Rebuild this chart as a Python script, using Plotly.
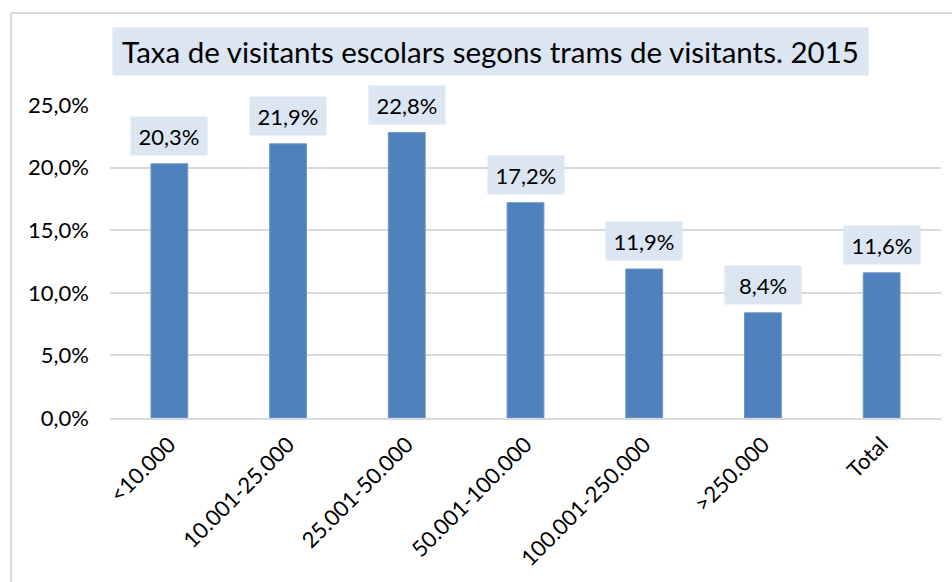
import plotly.graph_objects as go

# Taxa de visitants escolars per trams de visitants (2015)
categories = ["<10.000", "10.001-25.000", "25.001-50.000", "50.001-100.000",
              "100.001-250.000", ">250.000", "Total"]
values = [20.3, 21.9, 22.8, 17.2, 11.9, 8.4, 11.6]
y_ticks = [0, 5, 10, 15, 20, 25]
y_tick_labels = [f"{t:.1f}%".replace(".", ",") for t in y_ticks]

title_text = "Taxa de visitants escolars segons trams de visitants. 2015"

FONT = "Lato"
BAR = "#4F81BD"
LABEL_BG = "#DCE6F2"
GRID = "#D9D9D9"

W, H = 952, 582
L, R, T, B = 110, 11, 105, 164
pw, ph = W - L - R, H - T - B


def px_x(px):
    return (px - L) / pw


def px_y(py):
    return (H - B - py) / ph


fig = go.Figure()
fig.add_trace(go.Bar(
    x=categories, y=values,
    marker=dict(color=BAR, line=dict(color="#6E97CB", width=1)),
    hoverinfo="x+y",
))

# value labels with a shaded box above each bar
for c, v in zip(categories, values):
    fig.add_annotation(
        x=c, y=v, xref="x", yref="y",
        text=f"{v:.1f}%".replace(".", ","),
        showarrow=False, yanchor="bottom", yshift=8,
        bgcolor=LABEL_BG, borderpad=4, width=68, height=30,
        font=dict(family=FONT, size=22, color="#000000"),
    )

# chart title in a shaded box
fig.add_annotation(
    x=px_x(490), y=px_y(51.5), xref="paper", yref="paper",
    text=title_text, showarrow=False,
    xanchor="center", yanchor="middle",
    bgcolor=LABEL_BG, borderpad=4, width=747, height=39,
    font=dict(family=FONT, size=29.5, color="#000000"),
)

# outer chart frame (left and top edges)
fig.add_shape(type="line", xref="paper", yref="paper",
              x0=px_x(11), x1=px_x(11), y0=px_y(600), y1=px_y(13),
              line=dict(color="#D9D9D9", width=2))
fig.add_shape(type="line", xref="paper", yref="paper",
              x0=px_x(11), x1=px_x(960), y0=px_y(13), y1=px_y(13),
              line=dict(color="#D9D9D9", width=2))

fig.update_layout(
    width=W, height=H,
    margin=dict(l=L, r=R, t=T, b=B, pad=0),
    paper_bgcolor="white", plot_bgcolor="white",
    showlegend=False,
    bargap=0.69,
    font=dict(family=FONT, size=22, color="#000000"),
    xaxis=dict(
        type="category", tickangle=-45, showgrid=False,
        showline=True, linecolor=GRID, linewidth=2,
        ticks="", ticklabelstandoff=3,
        tickfont=dict(family=FONT, size=22, color="#000000"),
    ),
    yaxis=dict(
        range=[0, 25], tickvals=y_ticks, ticktext=y_tick_labels,
        showgrid=True, gridcolor=GRID, gridwidth=2,
        zeroline=False, showline=False, ticks="",
        ticklabelstandoff=20,
        tickfont=dict(family=FONT, size=22, color="#000000"),
    ),
)

fig.write_html("out.html")
